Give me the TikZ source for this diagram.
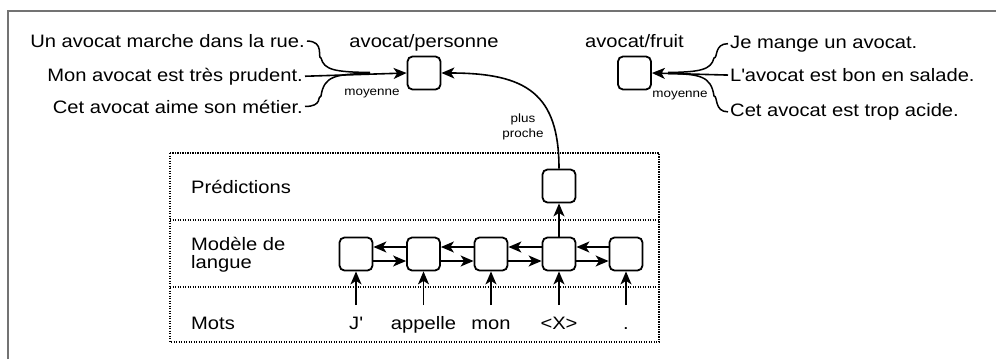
\documentclass[tikz,border=0pt]{standalone}
\usepackage{fontspec}
\setmainfont[FakeStretch=1.12]{Liberation Sans}
\usetikzlibrary{arrows.meta}
\begin{document}
\begin{tikzpicture}[x=1pt,y=-1pt,
  every node/.style={font=\fontsize{18}{21}\selectfont, inner sep=0pt},
  cell/.style={draw, rounded corners=5pt, minimum size=33pt, line width=1.8pt},
  arr/.style={-{Stealth[length=13pt,width=11pt,inset=3.5pt]}, line width=1.6pt},
  link/.style={line width=1.5pt},
  small/.style={font=\fontsize{12}{15}\selectfont},
  lane/.style={line width=1.3pt, dash pattern=on 1.3pt off 1.2pt},
  frame/.style={line width=1.6pt, draw=black!55}]
\useasboundingbox (0,0) rectangle (996,359);

% outer frame
\draw[frame] (8,359) -- (8,11) -- (996,11);

% swim lanes
\draw[lane] (170,153) rectangle (659,342);
\draw[lane] (170,220) -- (659,220);
\draw[lane] (170,287) -- (659,287);
\node[anchor=base west] (lpred) at (191,193) {Prédictions};
\node[anchor=base west] (llm) at (191,250) {Modèle de};
\node[anchor=base west] (llm2) at (191,268) {langue};
\node[anchor=base west] (lmots) at (191,329) {Mots};

% language model cells
\foreach \i/\x in {1/356,2/423.5,3/491,4/559,5/626}{
  \node[cell] (m\i) at (\x,254) {};
}
\foreach \a/\b in {1/2,2/3,3/4,4/5}{
  \draw[arr] ([yshift=7pt]m\b.west) -- ([yshift=7pt]m\a.east);
  \draw[arr] ([yshift=-7pt]m\a.east) -- ([yshift=-7pt]m\b.west);
}

% input words
\node[anchor=base] (w1) at (356,329) {J\textquotesingle};
\node[anchor=base] (w2) at (423.5,329) {appelle};
\node[anchor=base] (w3) at (491,329) {mon};
\node[anchor=base] (w4) at (559,329) {<X>};
\node[anchor=base] (w5) at (626,329) {.};
\foreach \i in {1,...,5}{
  \draw[arr] ([yshift=24pt]w\i.base) -- (m\i.south);
}

% prediction
\node[cell] (pred) at (559,186) {};
\draw[arr] (m4.north) -- (pred.south);

% sense vectors
\node[cell] (pers) at (424,73) {};
\node[cell] (fruit) at (634.5,73) {};
\node[anchor=base] (tpers) at (424,47) {avocat/personne};
\node[anchor=base] (tfruit) at (634.5,47) {avocat/fruit};

\draw[arr] (pred.north) .. controls +(0,-75) and +(85,0) .. (pers.east);
\node[small, align=center] (pp) at (523,127) {plus\\proche};

% sentences for the person sense
\node[anchor=base east] (s1) at (305,47.5) {Un avocat marche dans la rue.};
\node[anchor=base east] (s2) at (303,81) {Mon avocat est très prudent.};
\node[anchor=base east] (s3) at (303,113) {Cet avocat aime son métier.};
\draw[link] ([xshift=2pt]s1.east) .. controls +(18,0) and +(-4,0) .. (321,58)
  .. controls (324,70) and (335,72) .. (370,72.5);
\draw[link] ([xshift=2pt]s3.east) .. controls +(18,0) and +(-4,0) .. (321,96)
  .. controls (324,76) and (335,74) .. (370,73.5);
\draw[arr] ([xshift=2pt]s2.east) -- (pers.west);
\node[small, anchor=base] (avg1) at (372,95) {moyenne};

% sentences for the fruit sense
\node[anchor=base west] (f1) at (730,48) {Je mange un avocat.};
\node[anchor=base west] (f2) at (730,81.5) {L\textquotesingle avocat est bon en salade.};
\node[anchor=base west] (f3) at (730,116.5) {Cet avocat est trop acide.};
\draw[link] ([xshift=-2pt]f1.west) .. controls +(-14,0) and +(4,0) .. (714,58)
  .. controls (711,70) and (700,72) .. (668,72.5);
\draw[link] ([xshift=-2pt]f3.west) .. controls +(-14,0) and +(4,0) .. (714,96)
  .. controls (711,76) and (700,74) .. (668,73.5);
\draw[arr] ([xshift=-2pt]f2.west) -- (fruit.east);
\node[small, anchor=base] (avg2) at (680,97.5) {moyenne};
\end{tikzpicture}
\end{document}
